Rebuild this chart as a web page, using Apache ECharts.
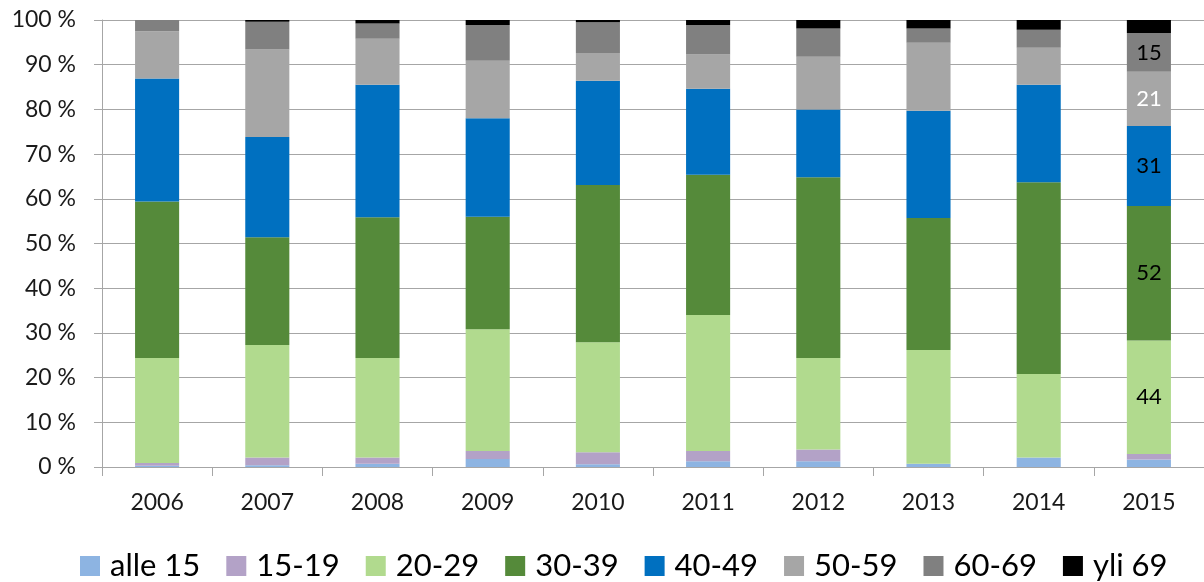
<!DOCTYPE html>
<html>
<head>
<meta charset="utf-8">
<script src="https://cdn.jsdelivr.net/npm/echarts@6/dist/echarts.min.js"></script>
<style>
html,body{margin:0;padding:0;background:#fff;}
#chart{width:1204px;height:582px;}
</style>
</head>
<body>
<div id="chart"></div>
<script>
const years = ['2006','2007','2008','2009','2010','2011','2012','2013','2014','2015'];
const ageGroups = ['alle 15','15-19','20-29','30-39','40-49','50-59','60-69','yli 69'];
const colors = ['#8DB4E2','#B3A2C7','#B1DA8E','#558A3A','#0070C0','#A6A6A6','#808080','#000000'];
const yTicks = [0,10,20,30,40,50,60,70,80,90,100];

// shares (%) per age group for each year
const alle15 = [0.3, 0.4, 0.7, 1.8, 0.6, 1.3, 1.3, 0.7, 2.1, 1.7];
const age1519 = [0.6, 1.7, 1.4, 1.8, 2.7, 2.3, 2.6, 0, 0, 1.2];
const age2029 = [23.5, 25.2, 22.3, 27.2, 24.6, 30.4, 20.5, 25.5, 18.7, 25.4];
const age3039 = [35.0, 24.1, 31.5, 25.2, 35.2, 31.4, 40.4, 29.5, 42.9, 30.1];
const age4049 = [27.5, 22.4, 29.6, 22.0, 23.3, 19.2, 15.2, 24.0, 21.8, 17.9];
const age5059 = [10.6, 19.6, 10.3, 12.9, 6.2, 7.7, 11.8, 15.2, 8.3, 12.1];
const age6069 = [2.5, 6.2, 3.4, 8.0, 6.9, 6.6, 6.3, 3.2, 4.0, 8.7];
const yli69 = [0, 0.4, 0.8, 1.1, 0.5, 1.1, 1.9, 1.9, 2.2, 2.9];

// data labels (counts) shown on the 2015 column
const labels2015 = [null, null, 44, 52, 31, 21, 15, null];
const labelColors = ['#000','#000','#000','#000','#000','#fff','#000','#000'];

const seriesData = [alle15, age1519, age2029, age3039, age4049, age5059, age6069, yli69];

const FONT = 'Lato, "Open Sans", sans-serif';
const chart = echarts.init(document.getElementById('chart'), null, {renderer:'canvas'});

const series = ageGroups.map((name, i) => ({
  name: name,
  type: 'bar',
  stack: 'total',
  barWidth: '40%',
  data: seriesData[i],
  itemStyle: {color: colors[i]},
  label: {
    show: labels2015[i] !== null,
    position: 'inside',
    fontFamily: FONT,
    fontSize: 22,
    color: labelColors[i],
    formatter: p => (p.dataIndex === years.length - 1 && labels2015[i] !== null) ? String(labels2015[i]) : ''
  },
  emphasis: {disabled: true}
}));

chart.setOption({
  animation: false,
  backgroundColor: '#fff',
  color: colors,
  grid: {left: 102, right: -13, top: 20, bottom: 115, containLabel: false},
  legend: {
    data: ageGroups,
    left: 80,
    top: 550,
    padding: 0,
    itemWidth: 20,
    itemHeight: 20,
    itemGap: 26,
    icon: 'rect',
    textStyle: {fontFamily: FONT, fontSize: 31, lineHeight: 32, color: '#000', padding: [0,0,0,5]}
  },
  xAxis: {
    type: 'category',
    data: years,
    axisLine: {show: true, lineStyle: {color: '#a6a6a6', width: 1}},
    axisTick: {show: true, length: 9, lineStyle: {color: '#a6a6a6'}},
    axisLabel: {fontFamily: FONT, fontSize: 23, color: '#1a1a1a', margin: 24}
  },
  yAxis: {
    type: 'value',
    min: yTicks[0],
    max: yTicks[yTicks.length - 1],
    interval: 10,
    axisLine: {show: true, lineStyle: {color: '#a6a6a6', width: 1}},
    axisTick: {show: true, length: 8, lineStyle: {color: '#a6a6a6'}},
    splitLine: {show: true, lineStyle: {color: '#a6a6a6', width: 1}},
    axisLabel: {fontFamily: FONT, fontSize: 23, color: '#1a1a1a', margin: 26, formatter: '{value} %'}
  },
  series: series
});
</script>
</body>
</html>
